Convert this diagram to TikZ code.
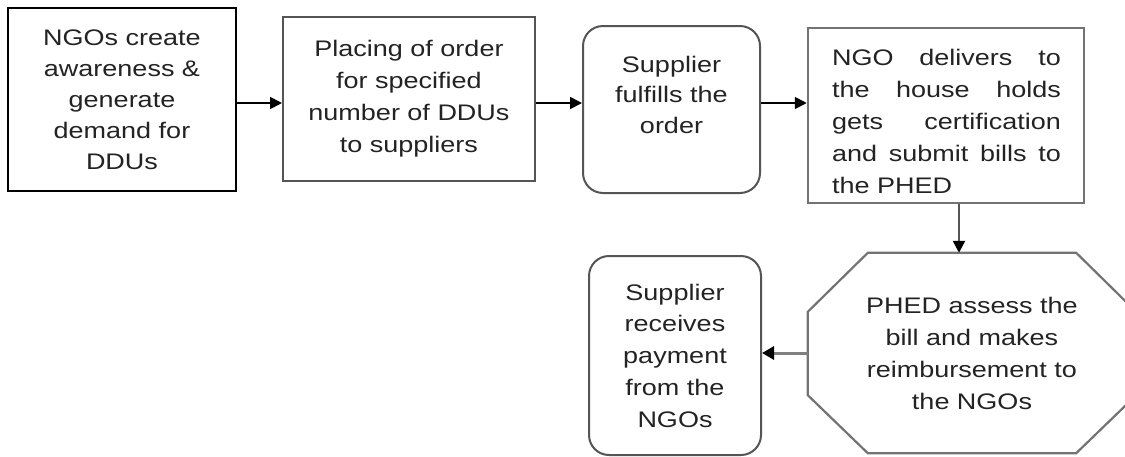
\documentclass[tikz,border=0pt]{standalone}
\usepackage{fontspec}
\setmainfont{Liberation Sans}[FakeStretch=1.2]
\usetikzlibrary{arrows.meta,calc}
\definecolor{bordergray}{RGB}{85,85,85}
\definecolor{lightborder}{RGB}{115,115,115}
\definecolor{txtcol}{RGB}{35,35,35}
\newcommand\jl[1]{\hbox to 229pt{#1}}
\begin{document}
\begin{tikzpicture}[x=1pt,y=-1pt,
  every node/.style={font=\fontsize{22.5}{31}\selectfont, text=txtcol},
  box/.style={draw=bordergray, line width=2pt, fill=white, inner sep=0pt, rectangle, align=center},
  rbox/.style={box, rounded corners=20pt},
  octline/.style={draw=lightborder, line width=2.2pt, line join=miter},
  ctext/.style={align=center, inner sep=0pt},
  arr/.style={line width=1.8pt, draw=black, -{Triangle[length=12pt,width=12pt,color=black]}},
  garr/.style={line width=3pt, draw=gray, -{Triangle[length=12pt,width=13pt,color=black]}}]
\useasboundingbox (0,0) rectangle (1125,456);

\node[box, draw=black, minimum width=228pt, minimum height=183pt] (b1) at (122,99.5)
  {NGOs create\\awareness \&\\generate\\demand for\\DDUs};
\node[box, minimum width=252pt, minimum height=164pt, font=\fontsize{22.5}{32}\selectfont] (b2) at (409,99)
  {Placing of order\\for specified\\number of DDUs\\to suppliers};
\node[rbox, minimum width=177pt, minimum height=167pt] (b3) at (671.5,109.5) {};
\node[ctext, anchor=north, font=\fontsize{22.5}{30.5}\selectfont] (t3) at (671.5,55.6)
  {Supplier\\fulfills the\\order};
\node[box, draw=lightborder, line width=2.5pt, minimum width=276pt, minimum height=175pt] (b4) at (946,115.5) {};
\node[inner sep=0pt, align=left, anchor=north, font=\fontsize{22.5}{32}\selectfont] (t4) at (946.5,48.6)
  {\jl{NGO\hfill delivers\hfill to}\\\jl{the\hfill house\hfill holds}\\\jl{gets\hfill certification}\\\jl{and\hfill submit\hfill bills\hfill to}\\the PHED};
\node[ctext, minimum width=328pt, minimum height=200pt, font=\fontsize{22.5}{32}\selectfont] (oct) at (972,353)
  {PHED assess the\\bill and makes\\reimbursement to\\the NGOs};
\draw[octline] ([xshift=60pt]oct.north west) -- ([xshift=-60pt]oct.north east)
  -- ([yshift=-59pt]oct.north east) -- ([yshift=58pt]oct.south east)
  -- ([xshift=-60pt]oct.south east) -- ([xshift=60pt]oct.south west)
  -- ([yshift=58pt]oct.south west) -- ([yshift=-59pt]oct.north west) -- cycle;
\node[rbox, minimum width=172pt, minimum height=199pt, font=\fontsize{22.5}{31.75}\selectfont] (b6) at (675,355.5)
  {Supplier\\receives\\payment\\from the\\NGOs};

\coordinate (ay) at (0,103);
\coordinate (dx) at (959,0);
\draw[arr] (b1.east |- ay) -- (b2.west |- ay);
\draw[arr] (b2.east |- ay) -- (b3.west |- ay);
\draw[arr] (b3.east |- ay) -- (b4.west |- ay);
\draw[arr, draw=bordergray, line width=2.4pt] (b4.south -| dx) -- (oct.north -| dx);
\draw[garr] (oct.west) -- (oct.west -| b6.east);
\end{tikzpicture}
\end{document}
